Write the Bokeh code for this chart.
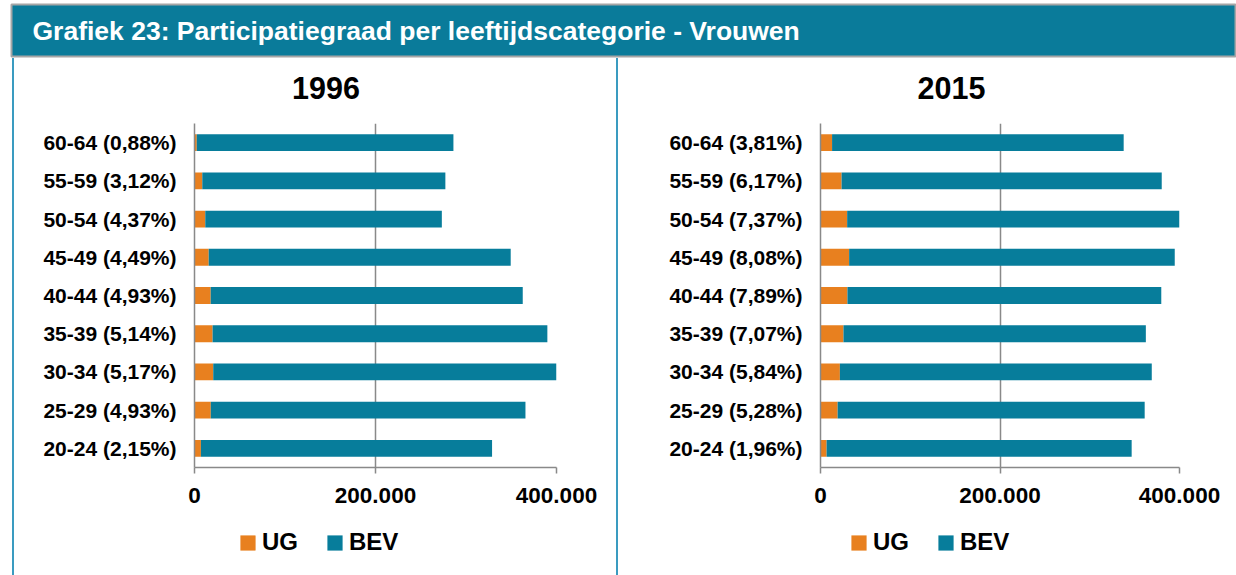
from bokeh.plotting import figure
from bokeh.layouts import column, row
from bokeh.models import (FactorRange, Range1d, FixedTicker, Legend, LegendItem,
                          Spacer, Label, ColumnDataSource)
from bokeh.embed import file_html
from bokeh.resources import INLINE

# ---------------- data ----------------
header_title = "Grafiek 23: Participatiegraad per leeftijdscategorie - Vrouwen"

labels_1996 = ["60-64 (0,88%)", "55-59 (3,12%)", "50-54 (4,37%)", "45-49 (4,49%)",
               "40-44 (4,93%)", "35-39 (5,14%)", "30-34 (5,17%)", "25-29 (4,93%)",
               "20-24 (2,15%)"]
ug_1996 = [2500, 8600, 11900, 15700, 17900, 20000, 20700, 18000, 7100]
bev_1996 = [283600, 268600, 261400, 333700, 344800, 369900, 379300, 347700, 321700]

labels_2015 = ["60-64 (3,81%)", "55-59 (6,17%)", "50-54 (7,37%)", "45-49 (8,08%)",
               "40-44 (7,89%)", "35-39 (7,07%)", "30-34 (5,84%)", "25-29 (5,28%)",
               "20-24 (1,96%)"]
ug_2015 = [12900, 23500, 29700, 31900, 30000, 25600, 21600, 19100, 6800]
bev_2015 = [324900, 356700, 373300, 362800, 349700, 336900, 347500, 342100, 339900]

series = ["UG", "BEV"]
x_ticks = [0, 200000, 400000]
x_tick_labels = ["0", "200.000", "400.000"]

# ---------------- styles ----------------
FONT = "Liberation Sans"
ORANGE = "#E8801F"
TEAL = "#077D9B"
HEADER = "#0A7B9A"
GRAY = "#898989"
BORDER = "#3A9BC0"
COLORS = [ORANGE, TEAL]
NAN = float("nan")


def blank(width, height):
    f = figure(frame_width=width, frame_height=height, x_range=Range1d(0, width),
               y_range=Range1d(0, height), min_border=0, x_axis_location=None,
               y_axis_location=None, toolbar_location=None, output_backend="svg",
               outline_line_color=None, background_fill_color="white",
               border_fill_color="white")
    f.grid.visible = False
    return f


def panel(title, labels, ug, bev, width, frame_w, border_l, title_x, leg_x):
    # title strip
    tf = blank(width, 50)
    tf.add_layout(Label(x=title_x, y=20.6, text=title, text_font=FONT, text_font_size="30.5px",
                        text_font_style="bold", text_color="black",
                        text_align="left", text_baseline="alphabetic"))

    # chart
    src = ColumnDataSource(dict(cat=labels, UG=ug, BEV=bev))
    p = figure(y_range=FactorRange(factors=labels[::-1]), x_range=Range1d(0, 400000),
               frame_width=frame_w, frame_height=344,
               min_border_left=border_l, min_border_right=width - border_l - frame_w,
               min_border_top=15, min_border_bottom=52,
               toolbar_location=None, output_backend="svg",
               outline_line_color=None, background_fill_color="white",
               border_fill_color="white")
    p.hbar_stack(series, y="cat", height=0.44, color=COLORS, line_color=None, source=src)

    xa = p.xaxis[0]
    xa.ticker = FixedTicker(ticks=x_ticks)
    xa.major_label_overrides = {k: v for k, v in zip(x_ticks, x_tick_labels)}
    xa.axis_line_color = GRAY
    xa.axis_line_width = 1.5
    xa.major_tick_line_color = GRAY
    xa.major_tick_line_width = 1.5
    xa.major_tick_out = 6
    xa.major_tick_in = 0
    xa.minor_tick_line_color = None
    xa.major_label_text_font = FONT
    xa.major_label_text_font_size = "22.5px"
    xa.major_label_text_font_style = "bold"
    xa.major_label_text_color = "black"
    xa.major_label_standoff = 14

    ya = p.yaxis[0]
    ya.axis_line_color = GRAY
    ya.axis_line_width = 1.5
    ya.major_tick_line_color = None
    ya.major_tick_out = 0
    ya.major_tick_in = 0
    ya.major_label_text_font = FONT
    ya.major_label_text_font_size = "21px"
    ya.major_label_text_font_style = "bold"
    ya.major_label_text_color = "black"
    ya.major_label_standoff = 18

    p.ygrid.visible = False
    p.xgrid.ticker = FixedTicker(ticks=x_ticks)
    p.xgrid.grid_line_color = GRAY
    p.xgrid.grid_line_width = 1.5

    # legend strip (proxy renderers carry only the series colours, no visible marks)
    lf = blank(width, 56)
    proxies = [lf.hbar(y=[NAN], right=[NAN], height=1, color=c, line_color=None) for c in COLORS]
    leg = Legend(items=[LegendItem(label=s, renderers=[r]) for s, r in zip(series, proxies)],
                 orientation="horizontal", location=(leg_x, 19),
                 glyph_width=19, glyph_height=19, label_standoff=5, spacing=27,
                 padding=0, margin=0, border_line_color=None, background_fill_alpha=0,
                 label_text_font=FONT, label_text_font_size="24px",
                 label_text_font_style="bold", label_text_color="black",
                 label_height=19)
    lf.add_layout(leg)
    return column(tf, p, lf)


left = panel("1996", labels_1996, ug_1996, bev_1996, 602, 362, 180, 97.5, 224)
right = panel("2015", labels_2015, ug_2015, bev_2015, 618, 359, 202, 97, 231)

header = figure(frame_width=1225, frame_height=52, x_range=Range1d(0, 1225), y_range=Range1d(0, 52),
                min_border_left=11, min_border_right=0, min_border_top=4, min_border_bottom=2,
                x_axis_location=None, y_axis_location=None, toolbar_location=None,
                output_backend="svg", background_fill_color=HEADER,
                outline_line_color="#A6A6A6", outline_line_width=2, border_fill_color="white")
header.grid.visible = False
header.add_layout(Label(x=21, y=26, text=header_title, text_font=FONT, text_font_size="26.5px",
                        text_font_style="bold", text_color="white", text_baseline="middle"))

gap = Spacer(width=12, height=517)
bl = Spacer(width=2, height=517, styles={"background-color": BORDER})
mid = Spacer(width=2, height=517, styles={"background-color": BORDER})

root = column(header, row(gap, bl, left, mid, right))

open("out.html", "w").write(file_html(root, INLINE))
